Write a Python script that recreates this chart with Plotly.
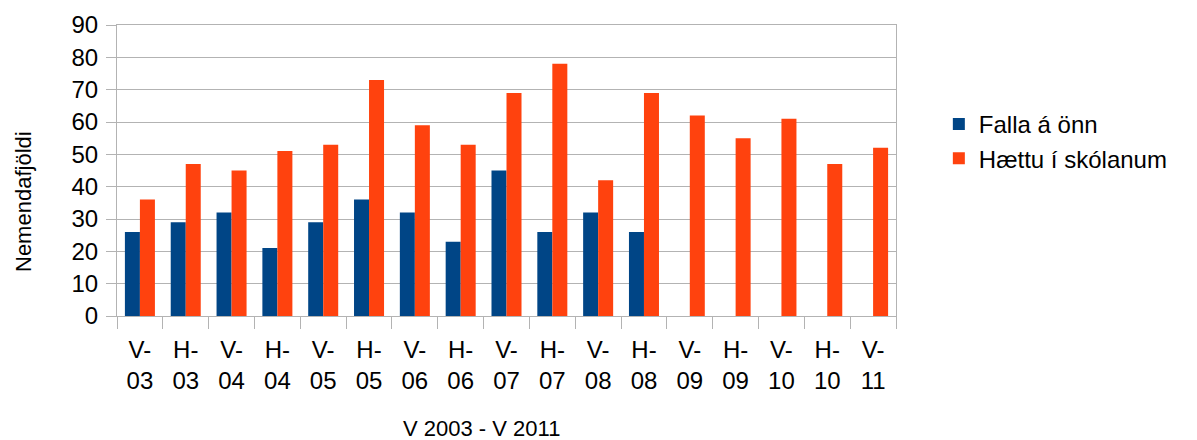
import plotly.graph_objects as go

# annir (vor / haust)
categories = ['V-03', 'H-03', 'V-04', 'H-04', 'V-05', 'H-05', 'V-06', 'H-06', 'V-07',
              'H-07', 'V-08', 'H-08', 'V-09', 'H-09', 'V-10', 'H-10', 'V-11']
tick_text = [c.replace('-', '-<br>') for c in categories]

falla = [26, 29, 32, 21, 29, 36, 32, 23, 45, 26, 32, 26, None, None, None, None, None]
haettu = [36, 47, 45, 51, 53, 73, 59, 53, 69, 78, 42, 69, 62, 55, 61, 47, 52]

font_name = 'Liberation Sans, Arial, sans-serif'
grid_col = '#b3b3b3'

fig = go.Figure()
fig.add_trace(go.Bar(name='Falla á önn', x=categories, y=falla,
                     marker=dict(color='#004586', line=dict(width=0))))
fig.add_trace(go.Bar(name='Hættu í skólanum', x=categories, y=haettu,
                     marker=dict(color='#ff420e', line=dict(width=0))))

# the page body has an 8px margin, so the figure is made 8px smaller
fig.update_layout(
    width=1189, height=432,
    margin=dict(l=109, r=301, t=17, b=124, autoexpand=False),
    paper_bgcolor='white', plot_bgcolor='white',
    font=dict(family=font_name, size=24, color='black'),
    barmode='group', bargap=0.345, bargroupgap=0,
    legend=dict(x=1.055, xanchor='left', y=0.60, yanchor='middle',
                font=dict(size=24), tracegroupgap=0),
    showlegend=True,
)

fig.update_xaxes(
    type='category', tickvals=categories, ticktext=tick_text,
    tickson='boundaries', ticks='outside', ticklen=12, tickcolor=grid_col,
    ticklabelstandoff=12, automargin=False,
    showgrid=False, showline=True, linecolor=grid_col, linewidth=1, mirror=True,
    tickfont=dict(size=24),
)
fig.update_yaxes(
    range=[0, 90], dtick=10, ticks='outside', ticklen=10, tickcolor=grid_col,
    ticklabelstandoff=3, automargin=False,
    showgrid=True, gridcolor=grid_col, gridwidth=1,
    showline=True, linecolor=grid_col, linewidth=1, mirror=True,
    zeroline=False, tickfont=dict(size=24),
)

fig.add_annotation(text='Nemendafjöldi', textangle=-90, showarrow=False,
                   xref='paper', yref='paper', x=(23 - 117) / 779, y=(316 - 202) / 291,
                   xanchor='center', yanchor='middle', font=dict(size=22))
fig.add_annotation(text='V 2003 - V 2011', showarrow=False,
                   xref='paper', yref='paper', x=(481 - 117) / 779, y=-(428 - 316) / 291,
                   xanchor='center', yanchor='middle', font=dict(size=22))

fig.write_html('out.html')
